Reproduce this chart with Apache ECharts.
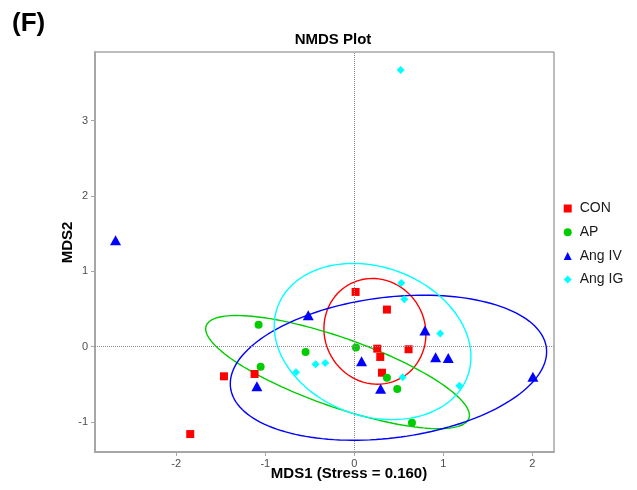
<!DOCTYPE html>
<html><head><meta charset="utf-8">
<script src="https://cdn.jsdelivr.net/npm/echarts@6/dist/echarts.min.js"></script>
<style>html,body{margin:0;padding:0;background:#fff}#c{width:637px;height:490px}</style>
</head><body><div id="c"></div>
<script>
// ---- data ----
const groups = ['CON', 'AP', 'Ang IV', 'Ang IG'];
const conX = [0.015, 0.367, 0.258, 0.292, 0.610, 0.311, -1.120, -1.464, -1.843];
const conY = [0.726, 0.492, -0.027, -0.137, -0.035, -0.346, -0.363, -0.394, -1.161];
const apX = [-1.075, -0.547, -1.052, 0.019, 0.367, 0.483, 0.648];
const apY = [0.292, -0.071, -0.266, -0.013, -0.412, -0.563, -1.010];
const ivX = [-2.682, -0.517, 0.794, 0.082, 0.914, 1.056, 0.296, -1.094, 2.007];
const ivY = [1.413, 0.416, 0.213, -0.195, -0.142, -0.151, -0.558, -0.527, -0.399];
const igX = [0.521, 0.528, 0.562, 0.966, -0.655, -0.434, -0.326, 0.543, 1.180];
const igY = [3.672, 0.846, 0.629, 0.173, -0.341, -0.235, -0.217, -0.408, -0.518];
// ellipse parameters: [centerX, centerY, halfWidthX, halfHeightY, correlation]
const ellCON = [0.232, 0.203, 0.573, 0.702, -0.05];
const ellAP = [-0.188, -0.338, 1.482, 0.751, -0.765];
const ellIV = [0.384, -0.280, 1.777, 0.963, 0.221];
const ellIG = [0.206, 0.068, 1.105, 1.037, -0.197];
const xTicks = [-2, -1, 0, 1, 2];
const yTicks = [-1, 0, 1, 2, 3];
const colors = ['#FF0000', '#00CD00', '#0000FF', '#00FFFF'];

function pairs(xs, ys) { return xs.map((x, i) => [x, ys[i]]); }
function ellipse(p) {
  const [cx, cy, sx, sy, r] = p;
  const pts = [];
  const n = 160;
  for (let i = 0; i <= n; i++) {
    const t = 2 * Math.PI * i / n;
    const c = Math.cos(t), s = Math.sin(t);
    pts.push([cx + sx * c, cy + sy * (r * c + Math.sqrt(1 - r * r) * s)]);
  }
  return pts;
}
const FONT = '"Liberation Sans", Arial, Helvetica, sans-serif';
const pointSets = [pairs(conX, conY), pairs(apX, apY), pairs(ivX, ivY), pairs(igX, igY)];
const ellSets = [ellCON, ellAP, ellIV, ellIG];
const symbols = ['rect', 'circle', 'triangle', 'diamond'];
const sizes = [8, 8, [11, 10], 8];

const series = [];
ellSets.forEach((e, i) => {
  const s = {
    name: groups[i] + ' ellipse', type: 'line', data: ellipse(e),
    showSymbol: false, symbol: 'none', silent: true, z: 2,
    lineStyle: { color: colors[i], width: 1.4 }, itemStyle: { color: colors[i] }
  };
  if (i === 0) {
    s.markLine = {
      silent: true, symbol: ['none', 'none'], label: { show: false }, animation: false,
      lineStyle: { color: '#8a8a8a', type: 'dotted', width: 1 },
      emphasis: { disabled: true },
      data: [{ xAxis: 0 }, { yAxis: 0 }]
    };
  }
  series.push(s);
});
pointSets.forEach((d, i) => {
  series.push({
    name: groups[i], type: 'scatter', data: d, symbol: symbols[i], symbolSize: sizes[i],
    itemStyle: { color: colors[i], opacity: 1 }, z: 3
  });
});

const chart = echarts.init(document.getElementById('c'), null, { renderer: 'canvas' });
chart.setOption({
  animation: false,
  backgroundColor: '#fff',
  grid: { left: 95, top: 52, right: 83, bottom: 38, show: true, borderColor: '#7a7a7a', borderWidth: 1, backgroundColor: 'transparent' },
  xAxis: {
    type: 'value', min: -2.913, max: 2.244,
    axisLine: { show: true, onZero: false, lineStyle: { color: '#a6a6a6', width: 2 } },
    axisTick: { show: true, length: 4, customValues: xTicks, lineStyle: { color: '#a6a6a6' } },
    axisLabel: { customValues: xTicks, margin: 6, fontSize: 11, color: '#4d4d4d', fontFamily: FONT },
    splitLine: { show: false }
  },
  yAxis: {
    type: 'value', min: -1.399, max: 3.912,
    axisLine: { show: true, onZero: false, lineStyle: { color: '#a6a6a6', width: 2 } },
    axisTick: { show: true, length: 4, customValues: yTicks, lineStyle: { color: '#a6a6a6' } },
    axisLabel: { customValues: yTicks, margin: 7, fontSize: 11, color: '#4d4d4d', fontFamily: FONT },
    splitLine: { show: false }
  },
  legend: {
    orient: 'vertical', left: 558.7, top: 196.5, padding: 5, itemWidth: 8, itemHeight: 8, itemGap: 9.7,
    textStyle: { fontSize: 14, color: '#1a1a1a', fontFamily: FONT, padding: [0, 0, 0, 3] },
    data: groups.map((g, i) => ({ name: g, icon: symbols[i] })),
    selectedMode: false
  },
  graphic: [
    { type: 'text', x: 12, y: 24, silent: true, style: { text: '(F)', font: 'bold 26px ' + FONT, fill: '#000', textAlign: 'left', align: 'left', textVerticalAlign: 'middle', verticalAlign: 'middle' } },
    { type: 'text', x: 333, y: 40, silent: true, style: { text: 'NMDS Plot', font: 'bold 15px ' + FONT, fill: '#000', textAlign: 'center', align: 'center', textVerticalAlign: 'middle', verticalAlign: 'middle' } },
    { type: 'text', x: 349, y: 474, silent: true, style: { text: 'MDS1 (Stress = 0.160)', font: 'bold 15px ' + FONT, fill: '#000', textAlign: 'center', align: 'center', textVerticalAlign: 'middle', verticalAlign: 'middle' } },
    { type: 'text', x: 68, y: 242.5, rotation: Math.PI / 2, silent: true, style: { text: 'MDS2', font: 'bold 15px ' + FONT, fill: '#000', textAlign: 'center', align: 'center', textVerticalAlign: 'middle', verticalAlign: 'middle' } }
  ],
  series: series
});
</script>
</body></html>
